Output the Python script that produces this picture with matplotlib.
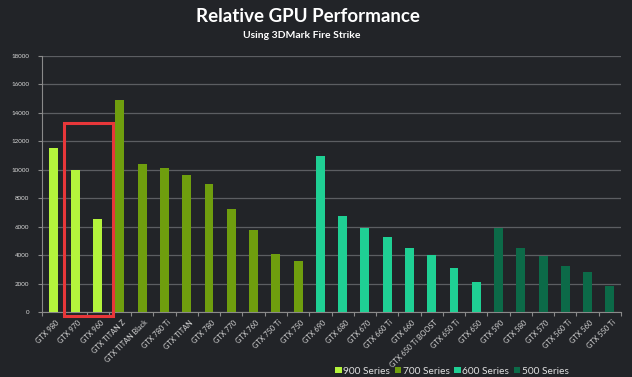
import matplotlib
matplotlib.use("Agg")
import matplotlib.pyplot as plt
from matplotlib.patches import Rectangle, Patch

plt.rcParams['font.family'] = ['Lato', 'DejaVu Sans']

categories = ["GTX 980", "GTX 970", "GTX 960",
              "GTX TITAN Z", "GTX TITAN Black", "GTX 780 Ti", "GTX TITAN", "GTX 780",
              "GTX 770", "GTX 760", "GTX 750 Ti", "GTX 750",
              "GTX 690", "GTX 680", "GTX 670", "GTX 660 Ti", "GTX 660", "GTX 650 Ti BOOST",
              "GTX 650 Ti", "GTX 650",
              "GTX 590", "GTX 580", "GTX 570", "GTX 560 Ti", "GTX 560", "GTX 550 Ti"]
values = [11550, 9950, 6540,
          14880, 10380, 10100, 9620, 9000, 7220, 5770, 4080, 3560,
          10970, 6770, 5930, 5250, 4520, 4010, 3120, 2110,
          5930, 4500, 3940, 3210, 2840, 1810]
series = ["900"] * 3 + ["700"] * 9 + ["600"] * 8 + ["500"] * 6
series_names = ["900 Series", "700 Series", "600 Series", "500 Series"]
series_colors = {"900": "#b4f43c", "700": "#6f9e0e", "600": "#1fd094", "500": "#0c6a48"}
yticks = list(range(0, 18001, 2000))

bg = "#222428"
fig = plt.figure(figsize=(6.32, 3.77), dpi=100, facecolor=bg)
ax = fig.add_axes([42/632, 1 - 312/377, (621-42)/632, (312-56)/377])
ax.set_facecolor(bg)

n = len(categories)
xs = [i + 0.5 for i in range(n)]
ax.bar(xs, values, width=0.40, color=[series_colors[s] for s in series], zorder=3)

ax.set_xlim(0, n)
ax.set_ylim(0, 18000)
ax.set_yticks(yticks)
ax.set_yticklabels([str(t) for t in yticks], fontsize=4.5, color="#d8d8d8")
ax.yaxis.grid(True, color="#5c5e62", linewidth=0.9, zorder=0)
ax.set_xticks(range(n + 1))
ax.set_xticklabels([])
ax.set_xticks([x + 0.1 for x in xs], minor=True)
ax.set_xticklabels(categories, minor=True, rotation=45, ha="right", va="top",
                   fontsize=5.3, color="#d8d8d8", rotation_mode="anchor")
ax.tick_params(axis='x', which='minor', length=0, pad=5)
ax.tick_params(axis='x', which='major', length=3, color="#8a8a8a", direction="out")
ax.tick_params(axis='y', length=3, color="#8a8a8a", pad=6)
for side in ["top", "right"]:
    ax.spines[side].set_visible(False)
for side in ["left", "bottom"]:
    ax.spines[side].set_color("#8a8a8a")
    ax.spines[side].set_linewidth(0.8)

rect = Rectangle((0.98, -310), 2.2, 13600, fill=False, edgecolor="#e8373a",
                 linewidth=2.2, clip_on=False, zorder=5)
ax.add_patch(rect)

fig.text(308/632, 1 - 17/377, "Relative GPU Performance", ha="center", va="center",
         fontsize=13.5, fontweight="bold", color="white")
fig.text(302/632, 1 - 35/377, "Using 3DMark Fire Strike", ha="center", va="center",
         fontsize=7.5, fontweight="bold", color="white")

handles = [Patch(facecolor=series_colors[k], edgecolor="none") for k in ["900", "700", "600", "500"]]
fig.legend(handles, series_names, loc="center", bbox_to_anchor=(452/632, 1 - 371/377),
           ncol=4, frameon=False, fontsize=7.3, labelcolor="#e0e0e0",
           handlelength=0.65, handleheight=0.65, handletextpad=0.15, columnspacing=0.45,
           borderpad=0, borderaxespad=0)

fig.savefig("out.png", dpi=100, facecolor=bg)
